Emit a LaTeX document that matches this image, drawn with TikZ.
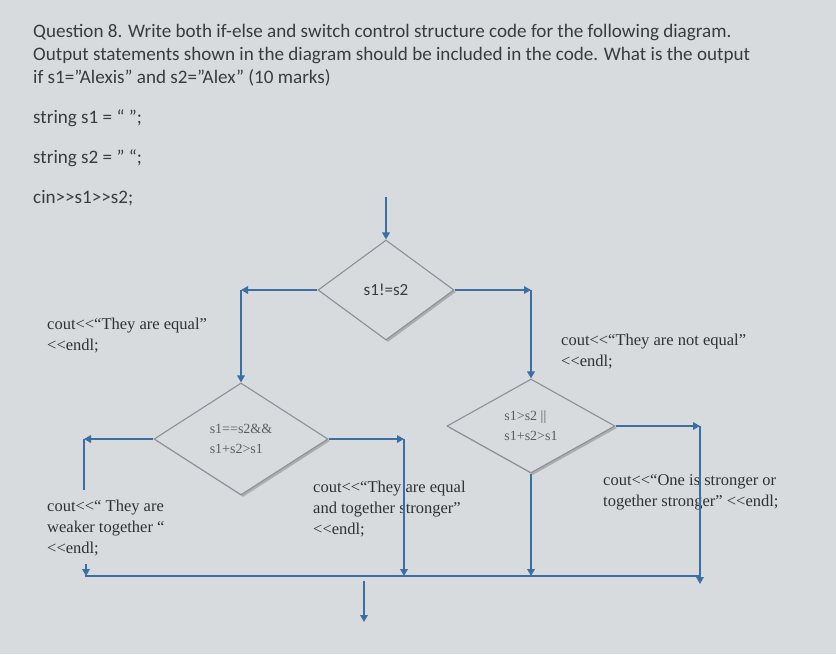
\documentclass[tikz,border=0pt]{standalone}
\usepackage{fontspec}
\setmainfont{Liberation Serif}
\newfontfamily\calibfont{Carlito}
\usetikzlibrary{arrows.meta,shapes.geometric,shadows}
\definecolor{BgGray}{HTML}{D7DBDE}
\definecolor{FlowBlue}{HTML}{3B6FA3}
\definecolor{EdgeGray}{HTML}{8C9197}
\definecolor{QText}{HTML}{3A3B3D}
\definecolor{StmtText}{HTML}{303133}
\definecolor{DiaText}{HTML}{5A5D60}
\newcommand\shl{<{}<}
\tikzset{
  flow/.style={draw=FlowBlue,line width=2.6pt,-{Triangle[length=7pt,width=7.5pt]}},
  flowline/.style={draw=FlowBlue,line width=2.6pt},
  decision/.style={diamond,draw=EdgeGray,line width=1.1pt,fill=BgGray,inner sep=0pt,
    text=DiaText,align=left,drop shadow={shadow xshift=2pt,shadow yshift=-2pt,opacity=0.5,fill=gray}},
  qtext/.style={anchor=base west,inner sep=0pt,text=QText,font=\calibfont\fontsize{19.1}{23}\selectfont},
  stmt/.style={anchor=north west,align=left,inner sep=0pt,text=StmtText,font=\fontsize{16.5}{21}\selectfont}
}
\begin{document}
\begin{tikzpicture}[x=1pt,y=-1pt]
\path[use as bounding box] (0,0) rectangle (836,654);
\fill[BgGray] (0,0) rectangle (836,654);
% question
\node[qtext] (q1) at (33,37) {Question 8. Write both if-else and switch control structure code for the following diagram.};
\node[qtext] (q2) at (33,60) {Output statements shown in the diagram should be included in the code. What is the output};
\node[qtext] (q3) at (33,83) {if s1=”Alexis” and s2=”Alex” (10 marks)};
\node[qtext] (v1) at (33,123) {string s1 = “ ”;};
\node[qtext] (v2) at (33,163) {string s2 = ” “;};
\node[qtext] (v3) at (33,203) {cin>{}>s1>{}>s2;};
% decisions
\node[decision,minimum width=136pt,minimum height=100pt,text=QText,
  font=\calibfont\fontsize{17}{20}\selectfont] (d1) at (386,290) {s1!=s2};
\node[decision,minimum width=174pt,minimum height=112pt,
  font=\fontsize{14}{20}\selectfont] (d2) at (241,439) {s1==s2\&\&\\s1+s2>s1};
\node[decision,minimum width=168pt,minimum height=94pt,
  font=\fontsize{14}{20}\selectfont] (d3) at (531,426) {s1>s2 ||\\s1+s2>s1};
% statements
\node[stmt] (t1) at (47,318) {cout\shl“They are equal”\\\shl endl;};
\node[stmt] (t2) at (561,334) {cout\shl“They are not equal”\\\shl endl;};
\node[stmt] (t3) at (47,500) {cout\shl“ They are\\weaker together “\\\shl endl;};
\node[stmt] (t4) at (313,481) {cout\shl“They are equal\\and together stronger”\\\shl endl;};
\node[stmt] (t5) at (603,474) {cout\shl“One is stronger or\\together stronger” \shl endl;};
% corners and joins
\coordinate (entry) at (386,197);
\coordinate (k1) at (241,290);
\coordinate (k2) at (531,290);
\coordinate (k3) at (84,439);
\coordinate (e1) at (84,490);
\coordinate (e2) at (86,564);
\coordinate (k4) at (404,439);
\coordinate (k5) at (700,426);
\coordinate (bl) at (85,576);
\coordinate (br) at (700,576);
\coordinate (x0) at (364,581);
\coordinate (x1) at (364,622);
% connectors
\draw[flow] (entry) -- (d1.north);
\draw[flow] (d1.west) -- (k1);
\draw[flow] (k1) -- (d2.north);
\draw[flow] (d1.east) -- (k2);
\draw[flow] (k2) -- (d3.north);
\draw[flow] (d2.west) -- (k3);
\draw[flowline] (k3) -- (e1);
\draw[flow] (d2.east) -- (k4);
\draw[flow] (k4) -- (k4 |- bl);
\draw[flow] (d3.east) -- (k5);
\draw[flow] (k5) -- ([yshift=-8pt]br);
\draw[flow] (d3.south) -- (d3.south |- bl);
\draw[flow] (e2) -- (e2 |- bl);
\draw[flowline] (bl) -- (br);
\draw[flow] (x0) -- (x1);
\end{tikzpicture}
\end{document}
